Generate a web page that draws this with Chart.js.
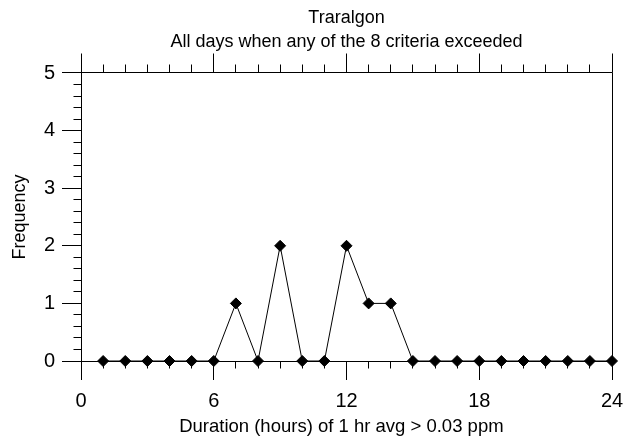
<!DOCTYPE html>
<html>
<head>
<meta charset="utf-8">
<title>Traralgon</title>
<script src="https://cdn.jsdelivr.net/npm/chart.js@4.4.0/dist/chart.umd.min.js"></script>
<style>
  html, body { margin: 0; padding: 0; background: #fff; }
  canvas { display: block; }
</style>
</head>
<body>
<canvas id="myChart" width="626" height="439"></canvas>
<script>
'use strict';

// duration in hours, and how many days had that duration
const hours = [1, 2, 3, 4, 5, 6, 7, 8, 9, 10, 11, 12, 13, 14, 15, 16, 17, 18, 19, 20, 21, 22, 23, 24];
const frequency = [0, 0, 0, 0, 0, 0, 1, 0, 2, 0, 0, 2, 1, 1, 0, 0, 0, 0, 0, 0, 0, 0, 0, 0];

const titleLines = ['Traralgon', 'All days when any of the 8 criteria exceeded'];
// two trailing nbsp nudge the centred title a little left, like the original
const xTitle = 'Duration (hours) of 1 hr avg > 0.03 ppm\u00a0\u00a0';
const yTitle = 'Frequency';

const FONT = "'Liberation Sans', Arial, Helvetica, sans-serif";

// minor ticks, top tick row and right side of the frame
const frameTicks = {
    id: 'frameTicks',
    beforeDatasetsDraw(chart) {
        const ctx = chart.ctx;
        const a = chart.chartArea;
        const x = chart.scales.x;
        const y = chart.scales.y;
        const al = v => Math.round(v - 0.5) + 0.5;

        ctx.save();
        ctx.strokeStyle = '#000';
        ctx.lineWidth = 1;
        ctx.beginPath();

        // frame top + right
        ctx.moveTo(al(a.left), al(a.top));
        ctx.lineTo(al(a.right), al(a.top));
        ctx.moveTo(al(a.right), al(a.top));
        ctx.lineTo(al(a.right), al(a.bottom));

        for (let h = 0; h <= 24; h++) {
            const px = al(x.getPixelForValue(h));
            const major = h % 6 === 0;
            // top row, pointing up
            ctx.moveTo(px, al(a.top));
            ctx.lineTo(px, al(a.top) - (major ? 19 : 8));
            // bottom minor ticks, pointing down
            if (!major) {
                ctx.moveTo(px, al(a.bottom));
                ctx.lineTo(px, al(a.bottom) + 7);
            }
        }

        for (let i = 1; i < 25; i++) {
            if (i % 5 === 0) continue;
            const py = al(y.getPixelForValue(i / 5));
            ctx.moveTo(al(a.left), py);
            ctx.lineTo(al(a.left) - 8, py);
        }

        ctx.stroke();
        ctx.restore();
    }
};

const ctx = document.getElementById('myChart').getContext('2d');

new Chart(ctx, {
    type: 'line',
    data: {
        datasets: [
            {
                data: hours.map((h, i) => ({ x: h, y: frequency[i] })),
                borderColor: '#000',
                borderWidth: 1,
                backgroundColor: '#000',
                pointStyle: 'rectRot',
                pointRadius: 5.5,
                pointBorderWidth: 1,
                pointBackgroundColor: '#000',
                pointBorderColor: '#000',
                tension: 0,
                fill: false,
                clip: false
            }
        ]
    },
    options: {
        responsive: false,
        animation: false,
        events: [],
        layout: {
            padding: { top: 0, left: 0, right: 14, bottom: 0 }
        },
        plugins: {
            legend: { display: false },
            tooltip: { enabled: false },
            title: {
                display: true,
                fullSize: false,
                text: titleLines,
                color: '#000',
                font: { family: FONT, size: 18, weight: 'normal', lineHeight: 1.3333 },
                padding: { top: 6, bottom: 19 }
            }
        },
        scales: {
            x: {
                type: 'linear',
                position: 'bottom',
                min: 0,
                max: 24,
                afterFit: s => {
                    s.height = 78;
                    s.paddingLeft = 0;
                    s.paddingRight = 0;
                },
                ticks: {
                    stepSize: 6,
                    color: '#000',
                    padding: 9,
                    font: { family: FONT, size: 20, lineHeight: 1.2 }
                },
                grid: {
                    display: true,
                    drawOnChartArea: false,
                    drawTicks: true,
                    tickLength: 19,
                    color: '#000',
                    lineWidth: 1
                },
                border: { display: true, color: '#000', width: 1 },
                title: {
                    display: true,
                    text: xTitle,
                    color: '#000',
                    font: { family: FONT, size: 18.5, lineHeight: 1.2 },
                    padding: { top: 0, bottom: 1 }
                }
            },
            y: {
                type: 'linear',
                position: 'left',
                min: 0,
                max: 5,
                afterFit: s => { s.width = 81; },
                ticks: {
                    stepSize: 1,
                    color: '#000',
                    padding: 7,
                    font: { family: FONT, size: 20, lineHeight: 1.2 }
                },
                grid: {
                    display: true,
                    drawOnChartArea: false,
                    drawTicks: true,
                    tickLength: 19,
                    color: '#000',
                    lineWidth: 1
                },
                border: { display: true, color: '#000', width: 1 },
                title: {
                    display: true,
                    text: yTitle,
                    color: '#000',
                    font: { family: FONT, size: 18, lineHeight: 1.2 },
                    padding: { top: 9, bottom: 0 }
                }
            }
        }
    },
    plugins: [frameTicks]
});
</script>
</body>
</html>
